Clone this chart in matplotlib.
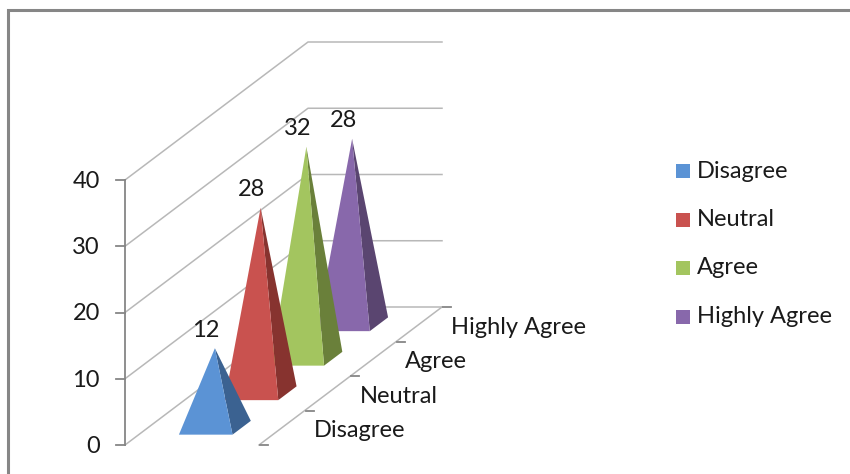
#!/usr/bin/env python3
"""Pyramid chart of survey responses, drawn on an oblique 3D floor."""

import matplotlib
matplotlib.use('Agg')
import matplotlib.pyplot as plt
from matplotlib.patches import Polygon, Rectangle

# Survey data
categories = ['Disagree', 'Neutral', 'Agree', 'Highly Agree']
values = [12, 28, 32, 28]
y_ticks = [0, 10, 20, 30, 40]
front_colors = ['#5b93d5', '#c9524f', '#a3c55f', '#8868ab']
side_colors = ['#3b6291', '#87332f', '#6a803a', '#5a4570']

# Oblique projection, in pixels
ORIGIN_X, ORIGIN_Y = 125, 445
WIDTH = 134
DEPTH_DX, DEPTH_DY = 45.75, 34.5
UNIT = 6.625

AXIS_COLOR = '#868686'
GRID_COLOR = '#b8b8b8'
TEXT_COLOR = '#1a1a1a'
FONT = 'Lato'
FONT_SIZE = 17


def project(x, depth, z=0):
    return (ORIGIN_X + x * WIDTH + depth * DEPTH_DX,
            ORIGIN_Y - depth * DEPTH_DY - z * UNIT)


def draw_pyramid(ax, depth, value, front, side):
    half = 0.2
    front_left = project(0.5 - half, depth + 0.5 - half)
    front_right = project(0.5 + half, depth + 0.5 - half)
    back_right = project(0.5 + half, depth + 0.5 + half)
    apex = project(0.5, depth + 0.5, value)
    ax.add_patch(Polygon([front_right, back_right, apex], closed=True,
                         facecolor=side, edgecolor='none'))
    ax.add_patch(Polygon([front_left, front_right, apex], closed=True,
                         facecolor=front, edgecolor='none'))
    return apex


fig = plt.figure(figsize=(8.5, 4.74), dpi=100)
ax = fig.add_axes([0, 0, 1, 1])
ax.set_xlim(0, 850)
ax.set_ylim(474, 0)
ax.axis('off')

# Outer frame, top and left sides only
ax.plot([8.5, 8.5, 850], [474, 9.5, 9.5], color=AXIS_COLOR, lw=2.2,
        solid_joinstyle='miter')

# Gridlines along side wall and back wall
depth_count = len(categories)
for tick in y_ticks:
    side_pts = [project(0, 0, tick), project(0, depth_count, tick),
                project(1, depth_count, tick)]
    ax.plot(*zip(*side_pts), color=GRID_COLOR, lw=1.1, zorder=1)

# Right floor edge and depth ticks
edge = [project(1, 0), project(1, depth_count)]
ax.plot(*zip(*edge), color=GRID_COLOR, lw=1.1, zorder=1)
for d in range(depth_count + 1):
    x, y = project(1, d)
    ax.plot([x + 1, x + 9], [y, y], color=AXIS_COLOR, lw=1.3, zorder=1)

# Value axis
top = project(0, 0, y_ticks[-1])
ax.plot([ORIGIN_X, ORIGIN_X], [ORIGIN_Y, top[1]], color=AXIS_COLOR, lw=1.3, zorder=2)
for tick in y_ticks:
    x, y = project(0, 0, tick)
    ax.plot([x - 9, x], [y, y], color=AXIS_COLOR, lw=1.3, zorder=2)
    ax.text(x - 25, y + 1.5, str(tick), ha='right', va='center', family=FONT,
            fontsize=FONT_SIZE, color=TEXT_COLOR)

# Pyramids from the back row to the front so nearer ones overlap
apexes = {}
for i in reversed(range(depth_count)):
    apexes[i] = draw_pyramid(ax, i, values[i], front_colors[i], side_colors[i])

for i, value in enumerate(values):
    x, y = apexes[i]
    ax.text(x - 9, y - 18, str(value), ha='center', va='center', family=FONT,
            fontsize=FONT_SIZE, color=TEXT_COLOR)

# Depth axis labels
for i, name in enumerate(categories):
    x, y = project(1, i + 0.5)
    ax.text(x + 32, y + 3, name, ha='left', va='center', family=FONT,
            fontsize=FONT_SIZE, color=TEXT_COLOR)

# Legend
for i, name in enumerate(categories):
    y = 171 + i * 48.5
    ax.add_patch(Rectangle((676, y - 7), 14, 14, facecolor=front_colors[i],
                           edgecolor='none'))
    ax.text(697, y, name, ha='left', va='center', family=FONT,
            fontsize=FONT_SIZE, color=TEXT_COLOR)

plt.savefig('out.png', dpi=100)
